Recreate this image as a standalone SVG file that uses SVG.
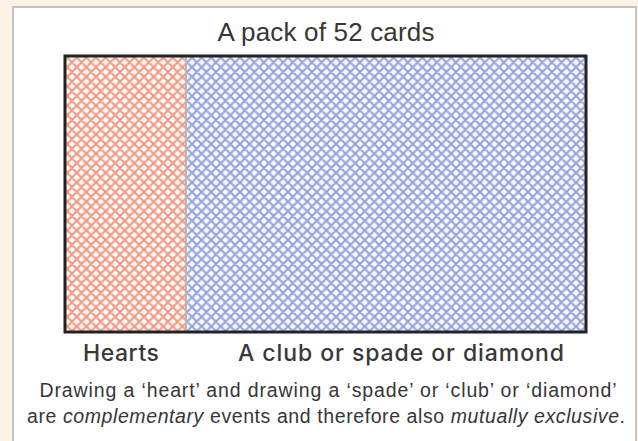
<svg xmlns="http://www.w3.org/2000/svg" width="638" height="441" viewBox="0 0 638 441">
<defs>
<style>
text{font-family:"Liberation Sans",Arial,sans-serif;fill:#363636}
.title{font-size:26px}
.lab{font-family:Inter,"Liberation Sans",sans-serif;font-size:23px;font-weight:500;fill:#383838}
.cap{font-size:19.5px}
</style>
<pattern id="pr" patternUnits="userSpaceOnUse" width="9.6" height="9.6">
<rect width="9.6" height="9.6" fill="#fefaf8"/>
<path d="M0,0L9.6,9.6M9.6,0L0,9.6M-1,8.6L1,10.6M8.6,-1L10.6,1M-1,1L1,-1M8.6,10.6L10.6,8.6" stroke="#f39a85" stroke-width="2.2"/>
</pattern>
<pattern id="pb" patternUnits="userSpaceOnUse" width="9.6" height="9.6">
<rect width="9.6" height="9.6" fill="#f9fafe"/>
<path d="M0,0L9.6,9.6M9.6,0L0,9.6M-1,8.6L1,10.6M8.6,-1L10.6,1M-1,1L1,-1M8.6,10.6L10.6,8.6" stroke="#97a4db" stroke-width="2.2"/>
</pattern>
</defs>
<rect width="638" height="441" fill="#fcf3e6"/>
<rect x="13" y="7" width="623" height="440" fill="#fff" stroke="#c4c4c4" stroke-width="2"/>
<g id="pack">
<rect x="65" y="56" width="121" height="276" fill="url(#pr)"/>
<rect x="186" y="56" width="400" height="276" fill="url(#pb)"/>
<line x1="186" y1="56" x2="186" y2="332" stroke="#b8b8b8" stroke-width="2"/>
<rect x="65" y="56" width="521" height="276" fill="none" stroke="#222" stroke-width="3"/>
</g>
<text class="title" x="326" y="41" text-anchor="middle" textLength="217">A pack of 52 cards</text>
<text class="lab" x="121" y="361" text-anchor="middle" textLength="76">Hearts</text>
<text class="lab" x="401" y="361" text-anchor="middle" textLength="326">A club or spade or diamond</text>
<text class="cap" x="328" y="397" text-anchor="middle" textLength="577">Drawing a ‘heart’ and drawing a ‘spade’ or ‘club’ or ‘diamond’</text>
<text class="cap" x="326" y="423" text-anchor="middle" textLength="598">are <tspan font-style="italic">complementary</tspan> events and therefore also <tspan font-style="italic">mutually exclusive</tspan>.</text>
</svg>
